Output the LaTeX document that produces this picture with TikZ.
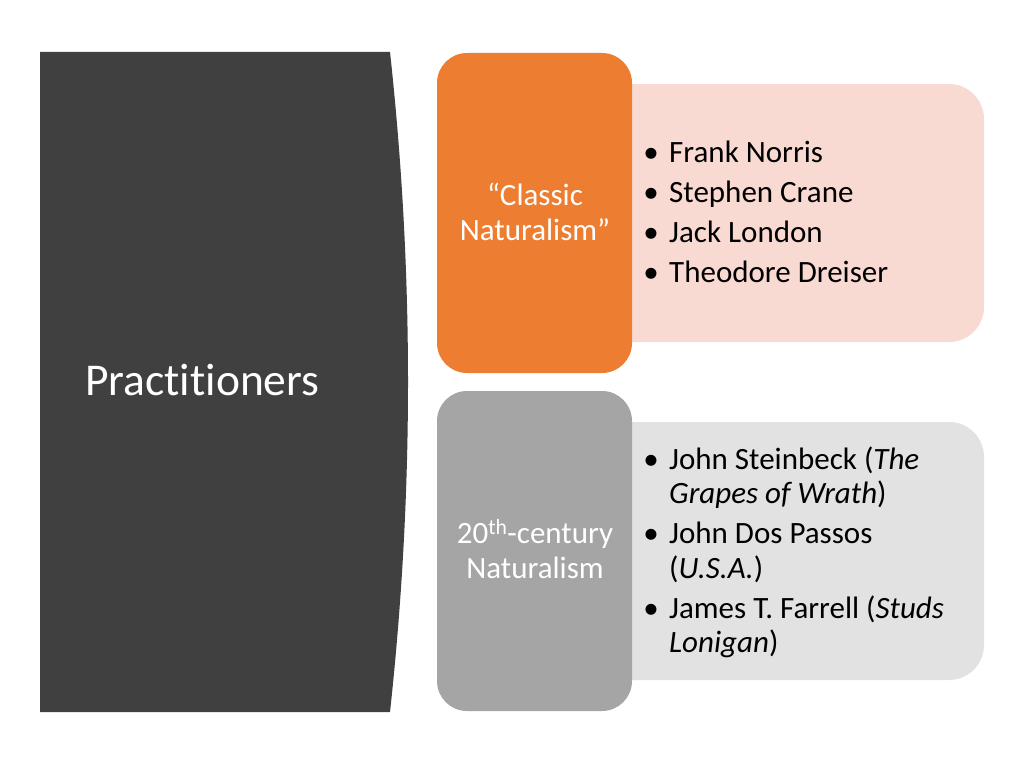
\documentclass[tikz,border=0pt]{standalone}
\usepackage{fontspec}
\setmainfont[RawFeature={-liga;-clig;-dlig;-calt}]{Carlito}
\definecolor{darkpanel}{HTML}{404040}
\definecolor{orangebox}{HTML}{ED7D31}
\definecolor{pinkbox}{HTML}{F8DAD3}
\definecolor{graybox}{HTML}{A5A5A5}
\definecolor{lightbox}{HTML}{E2E2E2}
\tikzset{
  bodytext/.style={font=\fontsize{31}{37}\selectfont, inner sep=0pt, text=black},
  listline/.style={bodytext, anchor=base west},
  bulletmark/.style={bodytext, anchor=base},
  headtext/.style={font=\fontsize{31}{37}\selectfont, inner sep=0pt, text=white, anchor=base},
}
\begin{document}
\begin{tikzpicture}[x=1pt,y=-1pt]
\useasboundingbox (0,0) rectangle (1024,768);
\fill[white] (0,0) rectangle (1024,768);
% left dark panel
\fill[darkpanel] (40,52) -- (390,52) .. controls (414,272) and (414,492) .. (390,712) -- (40,712) -- cycle;
\node[font=\fontsize{45.5}{50}\selectfont, text=white, anchor=base west, inner sep=0pt] (title) at (85,395) {Pract\kern0pt it\kern0pt ioners};
% top group
\fill[pinkbox, rounded corners=35pt] (560,84) rectangle (984,342);
\fill[orangebox, rounded corners=30pt] (437,53) rectangle (632,373);
\node[headtext] (c1) at (535,205) {“Classic};
\node[headtext] (c2) at (535,240) {Naturalism”};
\node[bulletmark] (b1) at (651,162) {•};
\node[listline] (t1) at (669,162) {Frank Norris};
\node[bulletmark] (b2) at (651,202) {•};
\node[listline] (t2) at (669,202) {Stephen Crane};
\node[bulletmark] (b3) at (651,242) {•};
\node[listline] (t3) at (669,242) {Jack London};
\node[bulletmark] (b4) at (651,282) {•};
\node[listline] (t4) at (669,282) {Theodore Dreiser};
% bottom group
\fill[lightbox, rounded corners=35pt] (560,422) rectangle (984,680);
\fill[graybox, rounded corners=30pt] (437,391) rectangle (632,711);
\node[headtext] (d1) at (535,543.5) {20\textsuperscript{th}-century};
\node[headtext] (d2) at (535,578.5) {Naturalism};
\node[bulletmark] (e1) at (651,469.5) {•};
\node[listline] (s1) at (669,469.5) {John Steinbeck (\textit{The}};
\node[listline] (s2) at (669,503.5) {\textit{Grapes of Wrath})};
\node[bulletmark] (e2) at (651,543.5) {•};
\node[listline] (s3) at (669,543.5) {John Dos Passos};
\node[listline] (s4) at (669,578.5) {(\textit{U.S.A.})};
\node[bulletmark] (e3) at (651,618.5) {•};
\node[listline] (s5) at (669,618.5) {James T. Farrell (\textit{Studs}};
\node[listline] (s6) at (669,652.5) {\textit{Lonigan})};
\end{tikzpicture}
\end{document}
